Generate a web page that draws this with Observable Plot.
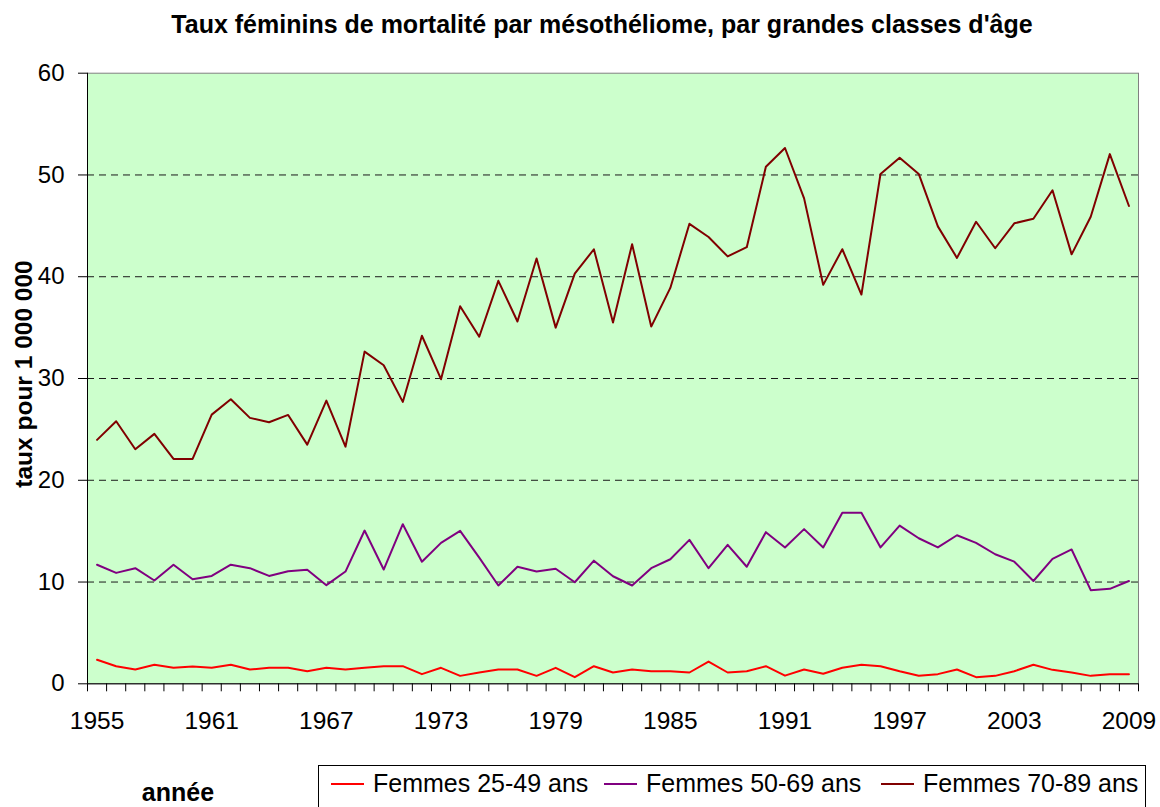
<!DOCTYPE html>
<html><head><meta charset="utf-8">
<script src="https://cdn.jsdelivr.net/npm/d3@7"></script>
<script src="https://cdn.jsdelivr.net/npm/@observablehq/plot@0.6"></script>
<style>
body{margin:0;background:#fff;font-family:"Liberation Sans",Arial,sans-serif;color:#000;}
#wrap{position:relative;width:1160px;height:807px;overflow:hidden;background:#fff;}
#title{position:absolute;top:12px;left:602px;transform:translateX(-50%);white-space:nowrap;font-weight:bold;font-size:25px;line-height:25px;}
#ylab{position:absolute;left:23.5px;top:374px;transform:translate(-50%,-50%) rotate(-90deg);white-space:nowrap;font-weight:bold;font-size:24.5px;line-height:24px;}
#chart{position:absolute;left:0;top:50px;}
#xlab{position:absolute;left:178px;top:780px;transform:translateX(-50%);font-weight:bold;font-size:25px;line-height:25px;}
#legend{position:absolute;left:318px;top:765px;width:828px;height:60px;border:1px solid #000;box-sizing:border-box;background:#fff;}
.item{position:absolute;top:5px;height:25px;white-space:nowrap;font-size:25px;line-height:25px;}
.sw{position:absolute;top:12px;height:2px;width:33px;}
.lt{position:absolute;left:42px;top:0;}
</style></head><body>
<div id="wrap">
  <div id="title"></div>
  <div id="ylab"></div>
  <div id="chart"></div>
  <div id="xlab"></div>
  <div id="legend"></div>
</div>
<script>
const titleText = "Taux féminins de mortalité par mésothéliome, par grandes classes d'âge";
const yLabel = "taux pour 1 000 000";
const xLabel = "année";

const years = [1955,1956,1957,1958,1959,1960,1961,1962,1963,1964,1965,1966,1967,1968,1969,1970,1971,1972,1973,1974,1975,1976,1977,1978,1979,1980,1981,1982,1983,1984,1985,1986,1987,1988,1989,1990,1991,1992,1993,1994,1995,1996,1997,1998,1999,2000,2001,2002,2003,2004,2005,2006,2007,2008,2009];
const xTickLabels = [1955,1961,1967,1973,1979,1985,1991,1997,2003,2009];
const yTicks = [0,10,20,30,40,50,60];
const yGrid = [10,20,30,40,50];

const seriesNames = ["Femmes 25-49 ans","Femmes 50-69 ans","Femmes 70-89 ans"];
const seriesColors = ["#FF0000","#800080","#800000"];

const f2549 = [2.36,1.73,1.40,1.87,1.57,1.70,1.57,1.87,1.40,1.57,1.57,1.24,1.57,1.40,1.57,1.73,1.73,0.95,1.57,0.78,1.11,1.40,1.40,0.78,1.57,0.65,1.73,1.11,1.40,1.24,1.24,1.11,2.19,1.11,1.24,1.73,0.80,1.40,0.98,1.57,1.87,1.73,1.24,0.80,0.95,1.40,0.65,0.78,1.24,1.87,1.37,1.11,0.78,0.95,0.95];
const f5069 = [11.7,10.9,11.36,10.15,11.7,10.28,10.6,11.7,11.36,10.6,11.06,11.2,9.69,11.03,15.06,11.23,15.68,12.0,13.85,15.03,12.4,9.66,11.5,11.03,11.3,9.98,12.1,10.57,9.66,11.36,12.24,14.14,11.36,13.65,11.5,14.9,13.4,15.2,13.4,16.8,16.8,13.4,15.55,14.3,13.4,14.6,13.85,12.73,12.0,10.1,12.27,13.2,9.2,9.33,10.1];
const f7089 = [23.97,25.8,23.05,24.56,22.1,22.1,26.45,27.96,26.13,25.7,26.42,23.5,27.83,23.3,32.64,31.3,27.7,34.2,29.93,37.1,34.1,39.6,35.6,41.8,35.0,40.3,42.7,35.5,43.2,35.1,38.9,45.2,43.9,42.0,42.9,50.8,52.65,47.7,39.2,42.7,38.25,50.1,51.7,50.1,44.95,41.85,45.4,42.8,45.25,45.7,48.5,42.2,45.9,52.05,46.95];

const seriesValues = [f2549, f5069, f7089];
const data = [];
seriesNames.forEach((s, k) => {
  seriesValues[k].forEach((v, i) => data.push({series: s, year: years[i], value: v}));
});
const boundaries = years.map(y => y - 0.5).concat([years[years.length - 1] + 0.5]);

document.getElementById("title").textContent = titleText;
document.getElementById("ylab").textContent = yLabel;
document.getElementById("xlab").textContent = xLabel;

const chart = Plot.plot({
  width: 1160,
  height: 690,
  marginLeft: 87,
  marginRight: 22,
  marginTop: 22.7,
  marginBottom: 56.7,
  style: {fontFamily: "'Liberation Sans', Arial, sans-serif", fontSize: "24px", background: "transparent", color: "#000", overflow: "visible"},
  x: {type: "linear", domain: [boundaries[0], boundaries[boundaries.length - 1]]},
  y: {domain: [0, 60]},
  color: {domain: seriesNames, range: seriesColors},
  marks: [
    Plot.frame({fill: "#CCFFCC", stroke: "#808080"}),
    Plot.ruleY(yGrid, {stroke: "#1a1a1a", strokeDasharray: "7,5"}),
    Plot.lineY(data, {x: "year", y: "value", z: "series", stroke: "series", strokeWidth: 2}),
    Plot.ruleX([boundaries[0]], {stroke: "#000"}),
    Plot.ruleY([0], {stroke: "#000"}),
    Plot.axisY(yTicks, {tickSize: 9, tickPadding: 14, label: null, fontSize: 24}),
    Plot.axisX(boundaries, {tickSize: 8, tickFormat: () => "", label: null}),
    Plot.axisX(xTickLabels, {tickSize: 0, tickPadding: 28, tickFormat: d => String(d), label: null, fontSize: 24.5})
  ]
});
document.getElementById("chart").appendChild(chart);

const legend = document.getElementById("legend");
const lefts = [12, 285, 562];
seriesNames.forEach((s, k) => {
  const it = document.createElement("div");
  it.className = "item";
  it.style.left = lefts[k] + "px";
  const sw = document.createElement("div");
  sw.className = "sw";
  sw.style.background = seriesColors[k];
  const t = document.createElement("div");
  t.className = "lt";
  t.textContent = s;
  it.appendChild(sw); it.appendChild(t);
  legend.appendChild(it);
});
</script>
</body></html>
